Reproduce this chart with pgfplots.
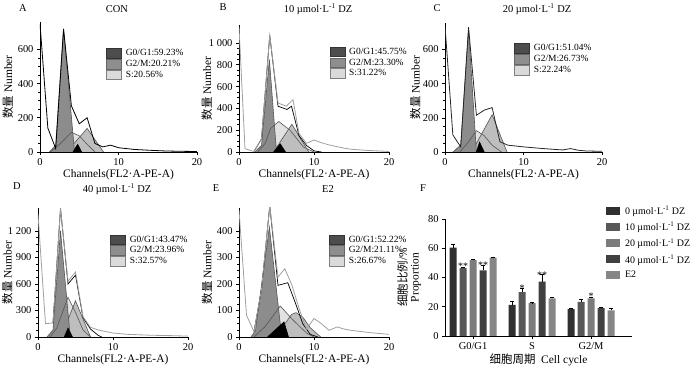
\documentclass[border=0pt]{standalone}
\usepackage{fontspec}
\setmainfont{Liberation Serif}
\newfontfamily\cjk{Noto Sans CJK SC}
\usepackage{pgfplots}
\pgfplotsset{compat=1.18}
\definecolor{gA}{HTML}{8C8C8C}
\definecolor{gS}{HTML}{E2E2E2}
\definecolor{gM}{HTML}{BEBEBE}
\definecolor{lg}{HTML}{A0A0A0}
\definecolor{dk}{HTML}{555555}
\definecolor{lA}{HTML}{4D4D4D}
\definecolor{lM}{HTML}{8E8E8E}
\definecolor{lS}{HTML}{DADADA}
\definecolor{c0}{HTML}{303030}
\definecolor{c1}{HTML}{585858}
\definecolor{c2}{HTML}{7C7C7C}
\definecolor{c3}{HTML}{404040}
\definecolor{c4}{HTML}{868686}
\pgfplotsset{
  common/.style={scale only axis, axis lines*=left, tick align=outside,
    major tick length=3bp, minor tick length=1.6bp,
    axis line style={line width=0.7bp, black},
    every tick/.style={black, line width=0.6bp},
    tick label style={font=\fontsize{10.5}{11}\selectfont},
    label style={font=\fontsize{11.5}{12}\selectfont},
    /pgf/number format/assume math mode=true,
    /pgf/number format/1000 sep={\ }},
  hist/.style={common, xmin=0, xmax=20, ymin=0, xtick={0,10,20}, minor y tick num=3,
    xlabel={Channels(FL2·A-PE-A)}, ylabel={{\cjk 数量}\ Number},
    xlabel style={yshift=3bp},
    ylabel style={at={(axis description cs:#1,0.5)}, anchor=center},
    every axis plot/.append style={line width=0.6bp},
    legend image code/.code={\draw[##1] (0bp,-4.8bp) rectangle (15bp,4.8bp);},
    legend style={draw=none, fill=none, anchor=north west, inner sep=0pt,
      nodes={inner sep=0.6bp}, row sep=0.6bp,
      font=\fontsize{9.5}{10}\selectfont,
      /tikz/every odd column/.append style={column sep=3.5bp}},
    legend cell align=left,
    title style={font=\fontsize{10.5}{11}\selectfont, anchor=center}},
  fbox/.style={legend image code/.code={\draw[##1,draw=none] (0bp,-3.5bp) rectangle (14bp,4.5bp);}},
  errs/.style={error bars/.cd, y dir=plus, y explicit,
    error bar style={black, line width=0.6bp},
    error mark options={black, rotate=90, mark size=2bp, line width=0.6bp}}
}
\begin{document}
\begin{tikzpicture}
\useasboundingbox (0,0) rectangle (700bp,370bp);
% ---------------- A
\begin{axis}[hist=-0.205, at={(40bp,218bp)}, width=157bp, height=130bp, ymax=760,
  ytick={0,200,400,600}, title={CON},
  title style={at={(axis description cs:0.49,1.054)}},
  legend style={at={(0.42,0.80)}}]
\addplot[forget plot, fill=gS, draw=none] coordinates {(1.3,0)(2.5,45)(4,115)(5,95)(6,45)(7,0)};
\addplot[forget plot, fill=gM, draw=dk] coordinates {(3.4,0)(6,138)(8.1,0)};
\addplot[forget plot, fill=gA, draw=dk] coordinates {(1.2,0)(2,40)(3,720)(4.4,0)};
\addplot[forget plot, fill=black, draw=black] coordinates {(4.2,0)(4.8,45)(5.3,0)};
\addplot[forget plot, draw=dk] coordinates {(1.3,0)(2.5,45)(4,115)(5,95)(6,45)(7,0)};
\addplot[forget plot, black, line width=0.8bp] coordinates {(0,750)(1,140)(2,20)(3,720)(4,270)(5,165)(6,200)(7,50)(8,30)(9,40)(10,25)(11,20)(12,15)(14,10)(16,6)(18,4)(20,3)};
\addlegendimage{fill=lA, draw=black!80}\addlegendentry{G0/G1:59.23\%}
\addlegendimage{fill=lM, draw=black!60}\addlegendentry{G2/M:20.21\%}
\addlegendimage{fill=lS, draw=black!50}\addlegendentry{S:20.56\%}
\end{axis}
% ---------------- B
\begin{axis}[hist=-0.215, at={(239bp,218bp)}, width=150bp, height=127bp, ymax=1165,
  ytick={0,200,...,1000}, title={10 µmol·L\textsuperscript{-1} DZ},
  title style={at={(axis description cs:0.527,1.079)}},
  legend style={at={(0.602,0.83)}}]
\addplot[forget plot, fill=gS, draw=none] coordinates {(2.5,0)(3.5,80)(4.2,215)(5.3,280)(6.8,200)(8.6,45)(10,0)};
\addplot[forget plot, fill=gM, draw=dk] coordinates {(4.6,0)(7.05,255)(9.3,0)};
\addplot[forget plot, fill=gA, draw=dk] coordinates {(2.1,0)(3,60)(4.05,850)(5,0)};
\addplot[forget plot, fill=black, draw=black] coordinates {(4.6,0)(5.5,75)(6.2,0)};
\addplot[forget plot, draw=dk] coordinates {(2.5,0)(3.5,80)(4.2,215)(5.3,280)(6.8,200)(8.6,45)(10,0)};
\addplot[forget plot, black, line width=0.7bp] coordinates {(2,5)(3,120)(4.1,1070)(5.2,420)(6.4,390)(7,420)(8,150)(9,60)(10,10)(11,0)};
\addplot[forget plot, lg, line width=0.8bp] coordinates {(0,1150)(0.8,30)(2,5)(3,120)(4.1,1070)(5.2,450)(6.3,420)(7.2,480)(8,170)(9,80)(10,110)(11,85)(12,65)(14,35)(15,25)(17,15)(20,5)};
\addlegendimage{fill=lA, draw=black!80}\addlegendentry{G0/G1:45.75\%}
\addlegendimage{fill=lM, draw=black!60}\addlegendentry{G2/M:23.30\%}
\addlegendimage{fill=lS, draw=black!50}\addlegendentry{S:31.22\%}
\end{axis}
% ---------------- C
\begin{axis}[hist=-0.19, at={(445bp,218bp)}, width=157bp, height=129bp, ymax=755,
  ytick={0,200,400,600}, title={20 µmol·L\textsuperscript{-1} DZ},
  title style={at={(axis description cs:0.586,1.062)}},
  legend style={at={(0.44,0.843)}}]
\addplot[forget plot, fill=gS, draw=none] coordinates {(1.9,0)(3,60)(4,125)(5,95)(6,40)(7.2,0)};
\addplot[forget plot, fill=gM, draw=dk] coordinates {(3.4,0)(6,218)(7.9,0)};
\addplot[forget plot, fill=gA, draw=dk] coordinates {(1,0)(2,40)(3,720)(4,0)};
\addplot[forget plot, fill=black, draw=black] coordinates {(4,0)(4.4,58)(5,0)};
\addplot[forget plot, draw=dk] coordinates {(1.9,0)(3,60)(4,125)(5,95)(6,40)(7.2,0)};
\addplot[forget plot, black!85, line width=0.8bp] coordinates {(0,740)(1,100)(2,30)(3,730)(4,215)(5,245)(6,260)(7,60)(8,40)(10,30)(12,22)(14,15)(15,12)(16,20)(17,10)(18,6)(20,4)};
\addlegendimage{fill=lA, draw=black!80}\addlegendentry{G0/G1:51.04\%}
\addlegendimage{fill=lM, draw=black!60}\addlegendentry{G2/M:26.73\%}
\addlegendimage{fill=lS, draw=black!50}\addlegendentry{S:22.24\%}
\end{axis}
% ---------------- D
\begin{axis}[hist=-0.205, at={(38bp,33bp)}, width=150bp, height=129bp, ymax=1460,
  ytick={0,300,...,1200}, title={40 µmol·L\textsuperscript{-1} DZ},
  title style={at={(axis description cs:0.527,1.10)}},
  legend style={at={(0.48,0.796)}}]
\addplot[forget plot, fill=gS, draw=none] coordinates {(1.6,0)(2.5,100)(4,450)(5,280)(6,80)(7,0)};
\addplot[forget plot, fill=gM, draw=dk] coordinates {(3.1,0)(5,410)(7,0)};
\addplot[forget plot, fill=gA, draw=dk] coordinates {(1.2,0)(2,80)(3,1200)(4.3,0)};
\addplot[forget plot, fill=black, draw=black] coordinates {(3.5,0)(4,100)(4.6,0)};
\addplot[forget plot, draw=dk] coordinates {(1.6,0)(2.5,100)(4,450)(5,280)(6,80)(7,0)};
\addplot[forget plot, black, line width=0.7bp] coordinates {(2,160)(3,1455)(4,600)(5,700)(6,220)(7,90)(8,20)(8.5,0)};
\addplot[forget plot, lg, line width=0.8bp] coordinates {(0,1390)(1,150)(2,160)(3,1455)(4,630)(5,735)(6,230)(7,110)(8,80)(10,45)(12,30)(15,20)(18,15)(20,10)};
\addlegendimage{fill=lA, draw=black!80}\addlegendentry{G0/G1:43.47\%}
\addlegendimage{fill=lM, draw=black!60}\addlegendentry{G2/M:23.96\%}
\addlegendimage{fill=lS, draw=black!50}\addlegendentry{S:32.57\%}
\end{axis}
% ---------------- E
\begin{axis}[hist=-0.213, at={(239bp,33bp)}, width=150bp, height=129bp, ymax=487,
  ytick={0,100,...,400}, title={E2},
  title style={at={(axis description cs:0.593,1.10)}},
  legend style={at={(0.6,0.796)}}]
\addplot[forget plot, fill=gS, draw=none] coordinates {(2,0)(3.5,40)(5.5,117)(7,70)(9,15)(10,0)};
\addplot[forget plot, fill=gM, draw=dk] coordinates {(3.7,0)(5,10)(6,45)(7,85)(7.6,92)(8.5,75)(9.5,35)(10.9,0)};
\addplot[forget plot, fill=gA, draw=dk] coordinates {(1.6,0)(2.2,25)(4.05,415)(5.7,0)};
\addplot[forget plot, fill=black, draw=black] coordinates {(3.8,0)(6,57)(6.6,0)};
\addplot[forget plot, draw=dk] coordinates {(2,0)(3.5,40)(5.5,117)(7,70)(9,15)(10,0)};
\addplot[forget plot, black, line width=0.7bp] coordinates {(2,20)(3,180)(4.1,495)(5.2,195)(6.5,205)(7.5,130)(8.5,50)(9.5,10)(10.5,0)};
\addplot[forget plot, lg, line width=0.8bp] coordinates {(0,480)(1,82)(2,20)(3,180)(4.1,495)(5.2,226)(6.1,258)(7,200)(8.1,100)(9,30)(10,70)(11,50)(12,25)(13.1,38)(14,30)(15,25)(17,18)(18,15)(20,10)};
\addlegendimage{fill=lA, draw=black!80}\addlegendentry{G0/G1:52.22\%}
\addlegendimage{fill=lM, draw=black!60}\addlegendentry{G2/M:21.11\%}
\addlegendimage{fill=lS, draw=black!50}\addlegendentry{S:26.67\%}
\end{axis}
% ---------------- F
\begin{axis}[common, at={(445bp,34bp)}, width=187bp, height=117bp,
  xmin=-28, xmax=159, ymin=0, ymax=80, ytick={0,20,40,60,80},
  xtick={0,59,118}, xticklabels={G0/G1,S,G2/M},
  xlabel={{\cjk 细胞周期}\ \ Cell cycle}, xlabel style={yshift=3bp},
  ylabel={{\cjk 细胞比例}/\%\\Proportion}, ylabel style={align=center},
  legend style={at={(0.86,1.12)}, anchor=north west, draw=none, fill=none, inner sep=0pt,
    nodes={inner sep=1bp}, row sep=4.5bp, font=\fontsize{10}{10}\selectfont,
    /tikz/every odd column/.append style={column sep=4bp}},
  legend cell align=left]
\addplot[ybar, bar width=7bp, bar shift=0pt, fill=c0, draw=none, fbox, errs] coordinates {(-20,60.5) +- (0,2.1) (39,21.3) +- (0,2.2) (98,18.4) +- (0,0.5)};
\addlegendentry{0 µmol·L\textsuperscript{-1} DZ}
\addplot[ybar, bar width=7bp, bar shift=0pt, fill=c1, draw=none, fbox, errs] coordinates {(-10,46.4) +- (0,0.9) (49,30.0) +- (0,2.5) (108,23.3) +- (0,2.0)};
\addlegendentry{10 µmol·L\textsuperscript{-1} DZ}
\addplot[ybar, bar width=7bp, bar shift=0pt, fill=c2, draw=none, fbox, errs] coordinates {(0,51.8) +- (0,0.7) (59,22.4) +- (0,0.5) (118,25.8) +- (0,0.9)};
\addlegendentry{20 µmol·L\textsuperscript{-1} DZ}
\addplot[ybar, bar width=7bp, bar shift=0pt, fill=c3, draw=none, fbox, errs] coordinates {(10,44.8) +- (0,3.4) (69,37.2) +- (0,4.7) (128,19.1) +- (0,0.5)};
\addlegendentry{40 µmol·L\textsuperscript{-1} DZ}
\addplot[ybar, bar width=7bp, bar shift=0pt, fill=c4, draw=none, fbox, errs] coordinates {(20,53.6) +- (0,0.5) (79,25.8) +- (0,0.6) (138,17.5) +- (0,1.1)};
\addlegendentry{E2}
\node[font=\fontsize{10}{10}\selectfont] at (axis cs:-10,47.8) {**};
\node[font=\fontsize{10}{10}\selectfont] at (axis cs:10,48.5) {**};
\node[font=\fontsize{10}{10}\selectfont] at (axis cs:49,32.8) {*};
\node[font=\fontsize{10}{10}\selectfont] at (axis cs:69,41.8) {**};
\node[font=\fontsize{10}{10}\selectfont] at (axis cs:118,27.2) {*};
\end{axis}
% panel letters
\node[font=\fontsize{10.5}{11}\selectfont] at (23bp,362bp) {A};
\node[font=\fontsize{10.5}{11}\selectfont] at (223bp,363bp) {B};
\node[font=\fontsize{10.5}{11}\selectfont] at (437bp,362bp) {C};
\node[font=\fontsize{10.5}{11}\selectfont] at (17bp,184bp) {D};
\node[font=\fontsize{10.5}{11}\selectfont] at (216bp,182bp) {E};
\node[font=\fontsize{10.5}{11}\selectfont] at (423bp,182bp) {F};
\end{tikzpicture}
\end{document}
